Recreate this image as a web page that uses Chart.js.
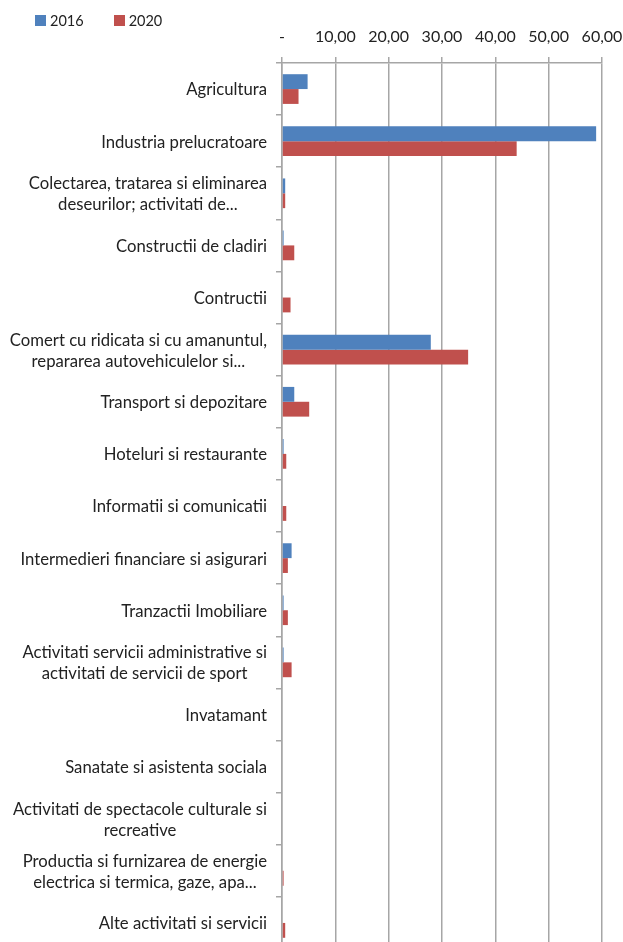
<!DOCTYPE html>
<html lang="ro">
<head>
  <meta charset="UTF-8" />
  <title>2016 vs 2020</title>
  <script src="https://cdn.jsdelivr.net/npm/chart.js"></script>
  <style>
    * {
      box-sizing: border-box;
      margin: 0;
      padding: 0;
    }
    body {
      background: #fff;
      width: 623px;
      height: 942px;
      overflow: hidden;
      font-family: 'Lato', 'Liberation Sans', sans-serif;
    }
    .chart-box {
      position: relative;
      width: 623px;
      height: 949px;
    }
    .legend {
      position: absolute;
      top: 12px;
      left: 35px;
      display: flex;
      gap: 30px;
      font-size: 14.5px;
      color: #222;
      z-index: 2;
    }
    .legend-item {
      display: flex;
      align-items: center;
    }
    .legend-box {
      width: 11px;
      height: 11px;
      margin-right: 4px;
    }
  </style>
</head>
<body>
  <div class="chart-box">
    <div id="legend" class="legend"></div>
    <canvas id="chart"></canvas>
  </div>

  <script>
// Categories (multi-line labels as arrays)
const categories = [
  'Agricultura',
  'Industria prelucratoare',
  ['Colectarea, tratarea si eliminarea', 'deseurilor; activitati de...'],
  'Constructii de cladiri',
  'Contructii',
  ['Comert cu ridicata si cu amanuntul,', 'repararea autovehiculelor si...'],
  'Transport si depozitare',
  'Hoteluri si restaurante',
  'Informatii si comunicatii',
  'Intermedieri financiare si asigurari',
  'Tranzactii Imobiliare',
  ['Activitati servicii administrative si', 'activitati de servicii de sport'],
  'Invatamant',
  'Sanatate si asistenta sociala',
  ['Activitati de spectacole culturale si', 'recreative'],
  ['Productia si furnizarea de energie', 'electrica si termica, gaze, apa...'],
  'Alte activitati si servicii'
];

const values2016 = [4.8, 58.9, 0.6, 0.3, 0, 27.9, 2.3, 0.3, 0, 1.8, 0.3, 0.3, 0, 0, 0, 0, 0];
const values2020 = [3.1, 44.0, 0.6, 2.3, 1.6, 34.9, 5.1, 0.8, 0.8, 1.1, 1.1, 1.8, 0, 0, 0, 0.3, 0.6];

const xTicks = [0, 10, 20, 30, 40, 50, 60];

const FONT = "'Lato', 'Liberation Sans', sans-serif";
const LABEL_SIZE = 16.7;
const GRID = '#a6a6a6';

function fmt(v) {
  if (v === 0) return '-';
  return v.toFixed(2).replace('.', ',');
}

// Category labels: lines centred on each other, block right-aligned (Excel style)
const centeredLabels = {
  id: 'centeredLabels',
  afterDraw(chart) {
    const scale = chart.scales.y;
    const c = chart.ctx;
    c.save();
    c.font = `${LABEL_SIZE}px ${FONT}`;
    c.fillStyle = '#222';
    c.textAlign = 'center';
    c.textBaseline = 'middle';
    const right = scale.right - 15;
    const lineH = 21;
    categories.forEach((lab, i) => {
      const lines = Array.isArray(lab) ? lab : [lab];
      const w = Math.max(...lines.map(l => c.measureText(l).width));
      const cx = right - w / 2;
      const cy = scale.getPixelForTick(i) + 1;
      lines.forEach((l, j) => {
        c.fillText(l, cx, cy + (j - (lines.length - 1) / 2) * lineH);
      });
    });
    c.restore();
  }
};

const datasets = [
  { label: '2016', data: values2016, backgroundColor: '#4f81bd' },
  { label: '2020', data: values2020, backgroundColor: '#c0504d' }
];

// HTML legend
const legendEl = document.getElementById('legend');
datasets.forEach(ds => {
  const item = document.createElement('div');
  item.className = 'legend-item';
  item.innerHTML = `<span class="legend-box" style="background:${ds.backgroundColor}"></span>${ds.label}`;
  legendEl.appendChild(item);
});

const ctx = document.getElementById('chart').getContext('2d');
new Chart(ctx, {
  type: 'bar',
  data: {
    labels: categories,
    datasets: datasets.map(ds => ({
      ...ds,
      categoryPercentage: 0.57,
      barPercentage: 1.0
    }))
  },
  plugins: [centeredLabels],
  options: {
    indexAxis: 'y',
    responsive: true,
    maintainAspectRatio: false,
    animation: false,
    layout: {
      padding: { top: 18, right: 21, bottom: 0, left: 0 }
    },
    plugins: {
      tooltip: { enabled: false },
      legend: { display: false }
    },
    scales: {
      x: {
        position: 'top',
        min: 0,
        max: 60,
        afterBuildTicks: (scale) => {
          scale.ticks = xTicks.map(v => ({ value: v }));
        },
        afterFit: (scale) => {
          scale.paddingLeft = 0;
          scale.paddingRight = 0;
          scale.height = 45;
        },
        ticks: {
          color: '#222',
          padding: 11,
          maxRotation: 0,
          font: { family: FONT, size: 16 },
          callback: (v) => fmt(v)
        },
        grid: {
          color: GRID,
          lineWidth: 1.5,
          tickLength: 6
        },
        border: { color: GRID, width: 1.5 }
      },
      y: {
        afterFit: (scale) => { scale.width = 282; },
        ticks: {
          display: false,
          autoSkip: false
        },
        grid: {
          drawOnChartArea: false,
          offset: true,
          color: GRID,
          lineWidth: 1.5,
          tickLength: 6
        },
        border: { color: GRID, width: 1.5 }
      }
    }
  }
});
  </script>
</body>
</html>
